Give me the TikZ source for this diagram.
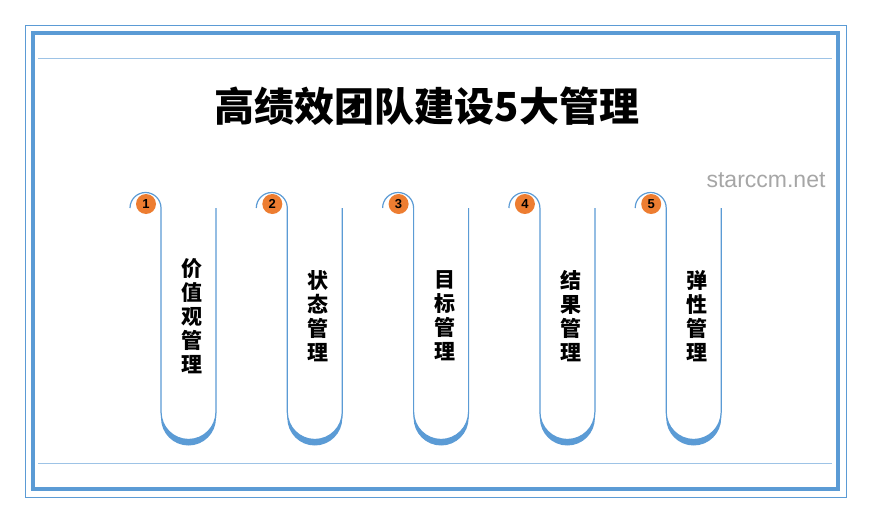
\documentclass[tikz,border=0pt]{standalone}
\usepackage{fontspec}
\setmainfont{Liberation Sans}
\newfontfamily\cjk{Noto Sans CJK SC}
\definecolor{rimblue}{RGB}{91,155,213}
\definecolor{lineblue}{RGB}{157,195,230}
\definecolor{numorange}{RGB}{237,125,49}
\tikzset{
  rim/.style={draw=rimblue, line width=1.2pt},
  numdot/.style={circle, fill=numorange, inner sep=0pt, minimum size=20pt, font=\bfseries\fontsize{13}{13}\selectfont},
  vlabel/.style={align=center, font=\cjk\bfseries\fontsize{21}{24}\selectfont}
}
\begin{document}
\begin{tikzpicture}[x=1pt,y=-1pt]
\useasboundingbox (0,0) rectangle (871,522);
\fill[white] (0,0) rectangle (871,522);
% frame
\draw[rimblue, line width=1pt] (25,25) rectangle (846,497);
\draw[rimblue, line width=4pt] (33,33) rectangle (838,489);
\draw[lineblue, line width=1pt] (38,58) -- (832,58);
\draw[lineblue, line width=1pt] (38,463) -- (832,463);
\node[font=\cjk\bfseries\fontsize{40}{40}\selectfont] (title) at (427,106) {高绩效团队建设5大管理};
\node[text=gray!70, font=\fontsize{23}{23}\selectfont] (site) at (766,180) {starccm.net};
% five tubes
\foreach \i/\txt in {1/{价\\值\\观\\管\\理}, 2/{状\\态\\管\\理}, 3/{目\\标\\管\\理}, 4/{结\\果\\管\\理}, 5/{弹\\性\\管\\理}} {
  \pgfmathsetmacro{\cx}{146+126.3*(\i-1)}
  \begin{scope}[shift={(\cx,0)}]
    \fill[rimblue] (15,412) arc[start angle=180, end angle=0, radius=27.5] -- (70,418) arc[start angle=0, end angle=180, radius=27.5] -- cycle;
    \draw[rim] (-16,208) arc[start angle=180, end angle=360, radius=15.5] -- (15,412) arc[start angle=180, end angle=0, radius=27.5] -- (70,208);
    \node[numdot] (n\i) at (0,204) {\i};
    \node[vlabel] (t\i) at (46,316) {\txt};
  \end{scope}
}
\end{tikzpicture}
\end{document}
